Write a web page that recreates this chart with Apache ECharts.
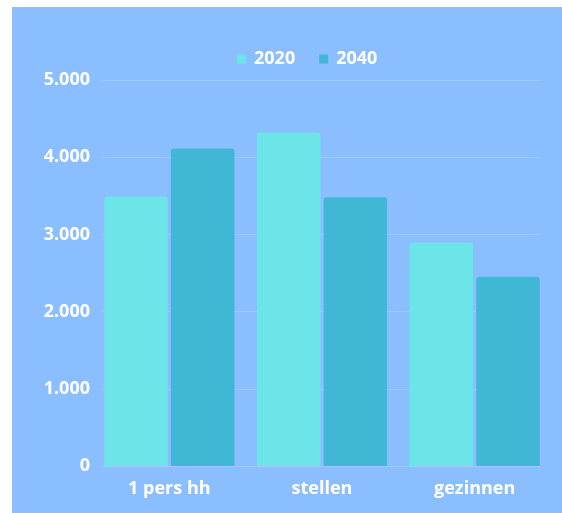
<!DOCTYPE html>
<html>
<head>
<meta charset="utf-8">
<script src="https://cdn.jsdelivr.net/npm/echarts@6/dist/echarts.min.js"></script>
<style>
html,body{margin:0;padding:0;background:#8abefe;overflow:hidden;}
#stripL{position:fixed;left:0;top:0;width:12px;height:100%;background:#fff;}
#stripT{position:fixed;left:0;top:0;width:100%;height:7px;background:#fff;}
#chart{position:absolute;left:0;top:0;width:562px;height:513px;}
</style>
</head>
<body>
<div id="stripL"></div><div id="stripT"></div>
<div id="chart"></div>
<script>
const categories = ['1 pers hh', 'stellen', 'gezinnen'];
const seriesNames = ['2020', '2040'];
const values2020 = [3490, 4320, 2895];
const values2040 = [4112, 3482, 2453];
const yTicks = [0, 1000, 2000, 3000, 4000, 5000];

const FONT = '"Open Sans", sans-serif';
const fmt = v => String(v).replace(/\B(?=(\d{3})+(?!\d))/g, '.');

const chart = echarts.init(document.getElementById('chart'), null, {renderer: 'canvas'});
chart.setOption({
  backgroundColor: 'transparent',
  animation: false,
  legend: {
    data: seriesNames,
    left: 232, top: 45,
    icon: 'rect', itemWidth: 9, itemHeight: 9, itemGap: 24,
    textStyle: {color: '#fff', fontFamily: FONT, fontWeight: 'bold', fontSize: 18, padding: [0, 0, 0, 3]}
  },
  grid: [
    {left: 93, right: 11, top: 80, bottom: 47},
    {left: 103, right: 22, top: 80, bottom: 47}
  ],
  xAxis: [
    {type: 'category', data: categories, gridIndex: 0,
     axisLine: {show: false}, axisTick: {show: false},
     axisLabel: {color: '#fff', fontFamily: FONT, fontWeight: 'bold', fontSize: 18, margin: 14}},
    {type: 'category', data: categories, gridIndex: 1, show: false}
  ],
  yAxis: [
    {type: 'value', gridIndex: 0, min: yTicks[0], max: yTicks[yTicks.length - 1], interval: 1000,
     splitLine: {show: false}, axisLine: {show: false}, axisTick: {show: false},
     axisLabel: {color: '#fff', fontFamily: FONT, fontWeight: 'bold', fontSize: 18, margin: 3, formatter: fmt}},
    {type: 'value', gridIndex: 1, min: yTicks[0], max: yTicks[yTicks.length - 1], interval: 1000,
     axisLine: {show: false}, axisTick: {show: false}, axisLabel: {show: false},
     splitLine: {show: true, lineStyle: {color: '#9ccaff', width: 1}}}
  ],
  series: [
    {name: seriesNames[0], type: 'bar', data: values2020, xAxisIndex: 0, yAxisIndex: 0,
     barWidth: 63.5, barGap: '5%',
     itemStyle: {color: '#6ce5e8', borderRadius: [3, 3, 0, 0]}},
    {name: seriesNames[1], type: 'bar', data: values2040, xAxisIndex: 0, yAxisIndex: 0,
     barWidth: 63.5, barGap: '5%',
     itemStyle: {color: '#41b7d6', borderRadius: [3, 3, 0, 0]}}
  ]
});
</script>
</body>
</html>
